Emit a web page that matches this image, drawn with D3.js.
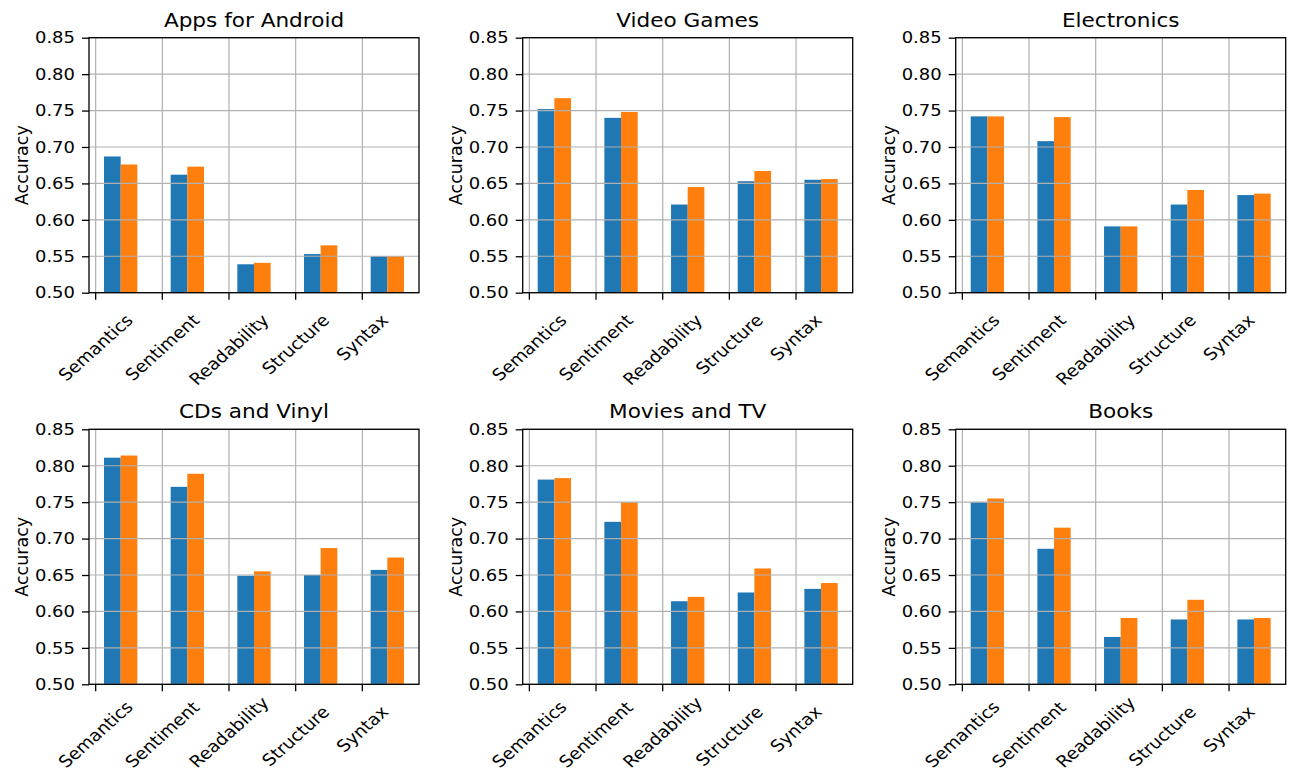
<!DOCTYPE html>
<html>
<head>
<meta charset="utf-8">
<script src="https://cdn.jsdelivr.net/npm/d3@7"></script>
<style>
  html, body { margin: 0; padding: 0; background: #fff; }
  svg { display: block; font-family: "DejaVu Sans", sans-serif; }
</style>
</head>
<body>
<svg id="chart" width="1293" height="772"></svg>
<script>
// ---- data ----
const categories = ["Semantics", "Sentiment", "Readability", "Structure", "Syntax"];
const panelTitles = ["Apps for Android", "Video Games", "Electronics", "CDs and Vinyl", "Movies and TV", "Books"];
const yTicks = [0.50, 0.55, 0.60, 0.65, 0.70, 0.75, 0.80, 0.85];
const yLabel = "Accuracy";

const appsBlue          = [0.687, 0.662, 0.539, 0.553, 0.550];
const appsOrange        = [0.676, 0.673, 0.541, 0.565, 0.550];
const gamesBlue         = [0.752, 0.740, 0.621, 0.653, 0.655];
const gamesOrange       = [0.767, 0.748, 0.645, 0.667, 0.656];
const electronicsBlue   = [0.742, 0.708, 0.591, 0.621, 0.634];
const electronicsOrange = [0.742, 0.741, 0.591, 0.641, 0.636];
const cdsBlue           = [0.811, 0.771, 0.649, 0.650, 0.657];
const cdsOrange         = [0.814, 0.789, 0.655, 0.687, 0.674];
const moviesBlue        = [0.781, 0.723, 0.614, 0.626, 0.631];
const moviesOrange      = [0.783, 0.750, 0.620, 0.659, 0.639];
const booksBlue         = [0.750, 0.686, 0.565, 0.589, 0.589];
const booksOrange       = [0.755, 0.715, 0.591, 0.616, 0.591];

const blueSeries = [appsBlue, gamesBlue, electronicsBlue, cdsBlue, moviesBlue, booksBlue];
const orangeSeries = [appsOrange, gamesOrange, electronicsOrange, cdsOrange, moviesOrange, booksOrange];

// ---- layout ----
const colLefts = [89, 522.7, 955.7];
const rowTops = [37.7, 429.3];
const W = 330, H = 255;
const blueColor = "#1f77b4", orangeColor = "#ff7f0e";
const gridColor = "#b0b0b0";
const tickFont = 16.5, titleFont = 19.8, labelFont = 17.5;
const sx = 1.09;      // horizontal text stretch seen in the reference
const sxLabel = 1.12; // for the rotated category labels

const svg = d3.select("#chart");

const x = d3.scaleLinear().domain([-0.1, 4.85]).range([0, W]);
const y = d3.scaleLinear().domain([0.50, 0.85]).range([H, 0]);
const barW = 0.25;

panelTitles.forEach((title, p) => {
  const col = p % 3, row = Math.floor(p / 3);
  const g = svg.append("g").attr("transform", `translate(${colLefts[col]},${rowTops[row]})`);

  const blue = blueSeries[p], orange = orangeSeries[p];

  // bars
  g.selectAll("rect.blue").data(blue).enter().append("rect")
    .attr("class", "blue")
    .attr("x", (d, i) => x(i + 0.125))
    .attr("width", (d, i) => x(i + 0.125 + barW) - x(i + 0.125))
    .attr("y", d => y(d))
    .attr("height", d => y(0.5) - y(d))
    .attr("fill", blueColor);
  g.selectAll("rect.orange").data(orange).enter().append("rect")
    .attr("class", "orange")
    .attr("x", (d, i) => x(i + 0.375))
    .attr("width", (d, i) => x(i + 0.375 + barW) - x(i + 0.375))
    .attr("y", d => y(d))
    .attr("height", d => y(0.5) - y(d))
    .attr("fill", orangeColor);

  // grid (drawn above bars, as matplotlib default)
  g.append("g").selectAll("line").data(yTicks).enter().append("line")
    .attr("x1", 0).attr("x2", W)
    .attr("y1", d => y(d)).attr("y2", d => y(d))
    .attr("stroke", gridColor).attr("stroke-width", 1.2);
  g.append("g").selectAll("line").data(categories).enter().append("line")
    .attr("x1", (d, i) => x(i)).attr("x2", (d, i) => x(i))
    .attr("y1", 0).attr("y2", H)
    .attr("stroke", gridColor).attr("stroke-width", 1.2);

  // y axis
  const yAxis = d3.axisLeft(y).tickValues(yTicks).tickFormat(d3.format(".2f"))
    .tickSize(7).tickPadding(5);
  const ya = g.append("g").call(yAxis);
  ya.select(".domain").remove();
  ya.selectAll(".tick line").attr("stroke", "#000").attr("stroke-width", 1.3);
  ya.selectAll(".tick text").attr("font-size", tickFont).attr("fill", "#000")
    .attr("font-family", "DejaVu Sans, sans-serif")
    .attr("x", -14 / sx)
    .attr("transform", `scale(${sx},1)`);

  // x axis ticks + rotated labels (rotated box centred under the tick)
  const xa = g.append("g").attr("transform", `translate(0,${H})`);
  categories.forEach((c, i) => {
    xa.append("line").attr("x1", x(i)).attr("x2", x(i)).attr("y1", 0).attr("y2", 7)
      .attr("stroke", "#000").attr("stroke-width", 1.3);
    const wrap = xa.append("g");
    wrap.append("text")
      .attr("text-anchor", "middle")
      .attr("dy", "0.35em")
      .attr("font-size", tickFont)
      .attr("fill", "#000")
      .attr("transform", `scale(${sxLabel},1) rotate(-45)`)
      .text(c);
    const bb = wrap.node().getBBox();
    let ty = 18 - bb.y;
    const absBottom = rowTops[row] + H + ty + bb.y + bb.height;
    if (absBottom > 771.5) ty -= (absBottom - 771.5);
    wrap.attr("transform", `translate(${x(i) - (bb.x + bb.width / 2)},${ty})`);
  });

  // frame
  g.append("rect").attr("x", 0).attr("y", 0).attr("width", W).attr("height", H)
    .attr("fill", "none").attr("stroke", "#000").attr("stroke-width", 1.3);

  // title
  g.append("text")
    .attr("transform", `translate(${W / 2},-11) scale(${sx},1)`)
    .attr("text-anchor", "middle").attr("font-size", titleFont).attr("fill", "#000")
    .text(title);

  // y label
  g.append("text")
    .attr("transform", `translate(-67,${H / 2}) rotate(-90)`)
    .attr("text-anchor", "middle").attr("dy", "0.35em")
    .attr("font-size", labelFont).attr("fill", "#000")
    .text(yLabel);
});
</script>
</body>
</html>
